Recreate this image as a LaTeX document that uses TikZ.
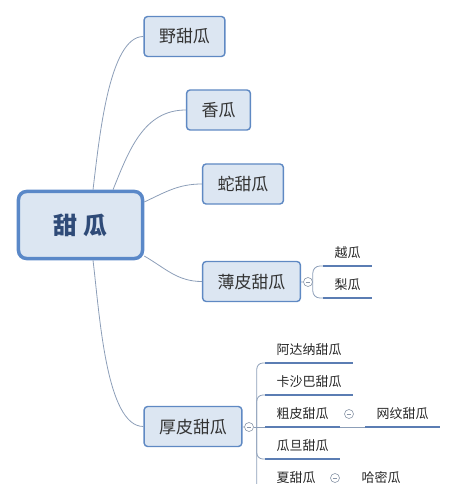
\documentclass[tikz,border=0pt]{standalone}
\usepackage{fontspec}
\setmainfont{Noto Sans CJK SC}
\usetikzlibrary{positioning}
\definecolor{boxfill}{HTML}{DCE6F2}
\definecolor{boxline}{HTML}{5F89C3}
\definecolor{mainline}{HTML}{5A88C8}
\definecolor{linkcol}{HTML}{8C9EB8}
\definecolor{barcol}{HTML}{5B7DB3}
\definecolor{maintext}{HTML}{2F4B78}
\definecolor{foldcol}{HTML}{8A96A8}
\begin{document}
\begin{tikzpicture}[x=1bp,y=-1bp,
  root/.style={draw=mainline, line width=3.5bp, fill=boxfill, rounded corners=8bp, minimum width=124bp, minimum height=67bp, text=maintext, font=\fontsize{24}{24}\selectfont\bfseries, text height=20bp, text depth=2bp},
  topic/.style={draw=boxline, line width=1.4bp, fill=boxfill, rounded corners=3.5bp, minimum height=40bp, inner xsep=15bp, text=black!80, font=\fontsize{17}{17}\selectfont, text height=15bp, text depth=2bp},
  leaf/.style={anchor=south west, inner xsep=11.5bp, inner ysep=6bp, text height=11bp, text depth=2bp, text=black!85, font=\fontsize{13}{13}\selectfont},
  fold/.style={circle, draw=foldcol, fill=white, line width=0.6bp, minimum size=9bp, inner sep=0pt, path picture={\draw[foldcol, line width=0.6bp] ([xshift=-2.3bp]path picture bounding box.center) -- ([xshift=2.3bp]path picture bounding box.center);}},
  link/.style={draw=linkcol, line width=0.8bp},
  bar/.style={draw=barcol, line width=2.6bp}]
\useasboundingbox (0,0) rectangle (457,484);
\node[root] (main) at (80.5,225) {甜 瓜};
\node[topic] (ye) at (184.5,36.5) {野甜瓜};
\node[topic] (xiang) at (218.5,110) {香瓜};
\node[topic] (she) at (243,184) {蛇甜瓜};
\node[topic] (baopi) at (251.5,281.5) {薄皮甜瓜};
\node[topic] (houpi) at (193,426.5) {厚皮甜瓜};
\node[fold] (c1) at (308,282) {};
\node[fold] (c2) at (249,427) {};
\node[leaf] (yue) at (323,266) {越瓜};
\node[leaf] (li) at (323,298) {梨瓜};
\node[leaf] (adana) at (265,363) {阿达纳甜瓜};
\node[leaf] (kasha) at (265,395) {卡沙巴甜瓜};
\node[leaf] (cupi) at (265,427) {粗皮甜瓜};
\node[leaf] (guadan) at (265,459) {瓜旦甜瓜};
\node[leaf] (xia) at (265,491) {夏甜瓜};
\node[leaf] (wangwen) at (365,427) {网纹甜瓜};
\node[leaf] (hami) at (350,491) {哈密瓜};
\node[fold] (c3) at (349,414) {};
\node[fold] (c4) at (335,478) {};
\path[link] ([xshift=12.5bp]main.north) to[out=83,in=180,out looseness=0.8,in looseness=0.55] (ye.west);
\path[link] ([xshift=32.5bp]main.north) to[out=68,in=180] (xiang.west);
\path[link] ([yshift=23bp]main.east) to[out=25,in=180] (she.west);
\path[link] ([yshift=-31bp]main.east) to[out=-30,in=180] (baopi.west);
\path[link] ([xshift=12.5bp]main.south) to[out=-83,in=180,out looseness=0.8,in looseness=0.55] (houpi.west);
\path[link] (baopi) -- (c1);
\path[link, rounded corners=7bp] (c1.east) |- (yue.south west);
\path[link, rounded corners=7bp] (c1.east) |- (li.south west);
\path[link] (houpi) -- (c2);
\path[link] (c2.east) -- (cupi.south west);
\path[link, rounded corners=6bp] ([xshift=3bp]c2.east) |- (adana.south west);
\path[link, rounded corners=6bp] ([xshift=3bp]c2.east) |- (kasha.south west);
\path[link, rounded corners=6bp] ([xshift=3bp]c2.east) |- (guadan.south west);
\path[link, rounded corners=6bp] ([xshift=3bp]c2.east) |- (xia.south west);
\path[link] (cupi.south east) -- (wangwen.south west);
\path[link] (xia.south east) -- (hami.south west);
\foreach \n in {yue,li,adana,kasha,cupi,guadan,xia,wangwen,hami}
  \path[bar] (\n.south west) -- (\n.south east);
\end{tikzpicture}
\end{document}
